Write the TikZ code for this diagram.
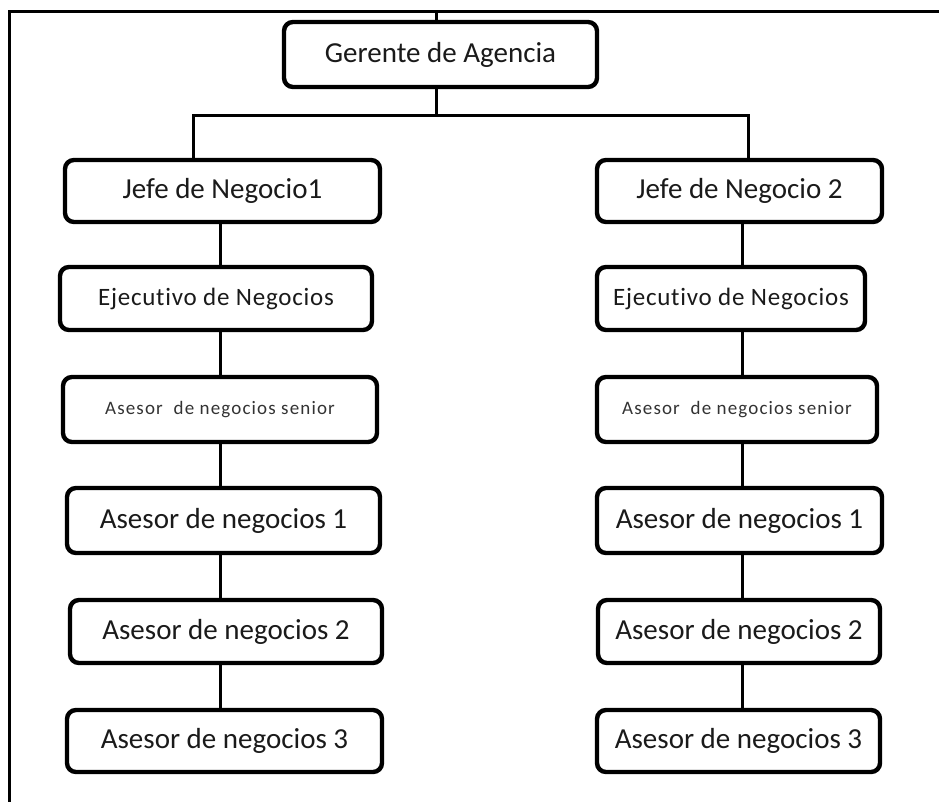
\documentclass[tikz,border=0pt]{standalone}
\usepackage{fontspec}
\setmainfont[Ligatures=NoCommon]{Carlito}
\newfontfamily\spcfont[LetterSpace=6,Ligatures=NoCommon]{Carlito}
\newfontfamily\widefont[LetterSpace=3,Ligatures=NoCommon]{Carlito}
\definecolor{txt}{HTML}{1A1A1A}
\definecolor{txtl}{HTML}{333333}
\begin{document}
\begin{tikzpicture}[x=1pt,y=-1pt,
  box/.style={draw, line width=4.4pt, rounded corners=9pt, inner sep=0pt, anchor=center, text=txt, fill=white},
  big/.style={font=\fontsize{29}{31}\selectfont},
  mid/.style={font=\widefont\fontsize{25}{27}\selectfont},
  small/.style={font=\spcfont\fontsize{19}{21}\selectfont, text=txtl},
  conn/.style={line width=3pt}]
\useasboundingbox (0,0) rectangle (939,802);
\fill[white] (0,0) rectangle (939,802);
% frame
\draw[conn] (9,802) -- (9,12) -- (939,12);
% nodes
\node[box,big,minimum width=313pt,minimum height=65pt] (g) at (440.5,54.5) {Gerente de Agencia};
\node[box,big,minimum width=315pt,minimum height=62pt] (j1) at (222.5,191) {Jefe de Negocio1};
\node[box,big,minimum width=285pt,minimum height=62pt] (j2) at (739.5,191) {Jefe de Negocio 2};
\node[box,mid,minimum width=312pt,minimum height=63pt] (e1) at (216,298.5) {Ejecutivo de Negocios};
\node[box,mid,minimum width=268pt,minimum height=63pt] (e2) at (731,298.5) {Ejecutivo de Negocios};
\node[box,small,minimum width=314pt,minimum height=65pt] (s1) at (220,409.5) {Asesor\ \ de negocios senior};
\node[box,small,minimum width=280pt,minimum height=65pt] (s2) at (737,409.5) {Asesor\ \ de negocios senior};
\node[box,big,minimum width=313pt,minimum height=65pt] (a1l) at (223.5,520.5) {Asesor de negocios 1};
\node[box,big,minimum width=285pt,minimum height=65pt] (a1r) at (739.5,520.5) {Asesor de negocios 1};
\node[box,big,minimum width=312pt,minimum height=63pt] (a2l) at (226,631.5) {Asesor de negocios 2};
\node[box,big,minimum width=282pt,minimum height=63pt] (a2r) at (739,631.5) {Asesor de negocios 2};
\node[box,big,minimum width=315pt,minimum height=62pt] (a3l) at (224.5,741) {Asesor de negocios 3};
\node[box,big,minimum width=283pt,minimum height=62pt] (a3r) at (738.5,741) {Asesor de negocios 3};
% connector guides
\coordinate (top) at (436,12);
\coordinate (bl) at (193,116);
\coordinate (br) at (748,116);
\coordinate (cl) at (220,0);
\coordinate (cr) at (742,0);
\draw[conn] (top) -- (g.north -| top);
\draw[conn] (g.south -| top) -- (top |- bl);
\draw[conn] (j1.north -| bl) -- (bl) -- (br) -- (j2.north -| br);
\draw[conn] (j1.south -| cl) -- (e1.north -| cl);
\draw[conn] (e1.south -| cl) -- (s1.north -| cl);
\draw[conn] (s1.south -| cl) -- (a1l.north -| cl);
\draw[conn] (a1l.south -| cl) -- (a2l.north -| cl);
\draw[conn] (a2l.south -| cl) -- (a3l.north -| cl);
\draw[conn] (j2.south -| cr) -- (e2.north -| cr);
\draw[conn] (e2.south -| cr) -- (s2.north -| cr);
\draw[conn] (s2.south -| cr) -- (a1r.north -| cr);
\draw[conn] (a1r.south -| cr) -- (a2r.north -| cr);
\draw[conn] (a2r.south -| cr) -- (a3r.north -| cr);
\end{tikzpicture}
\end{document}
